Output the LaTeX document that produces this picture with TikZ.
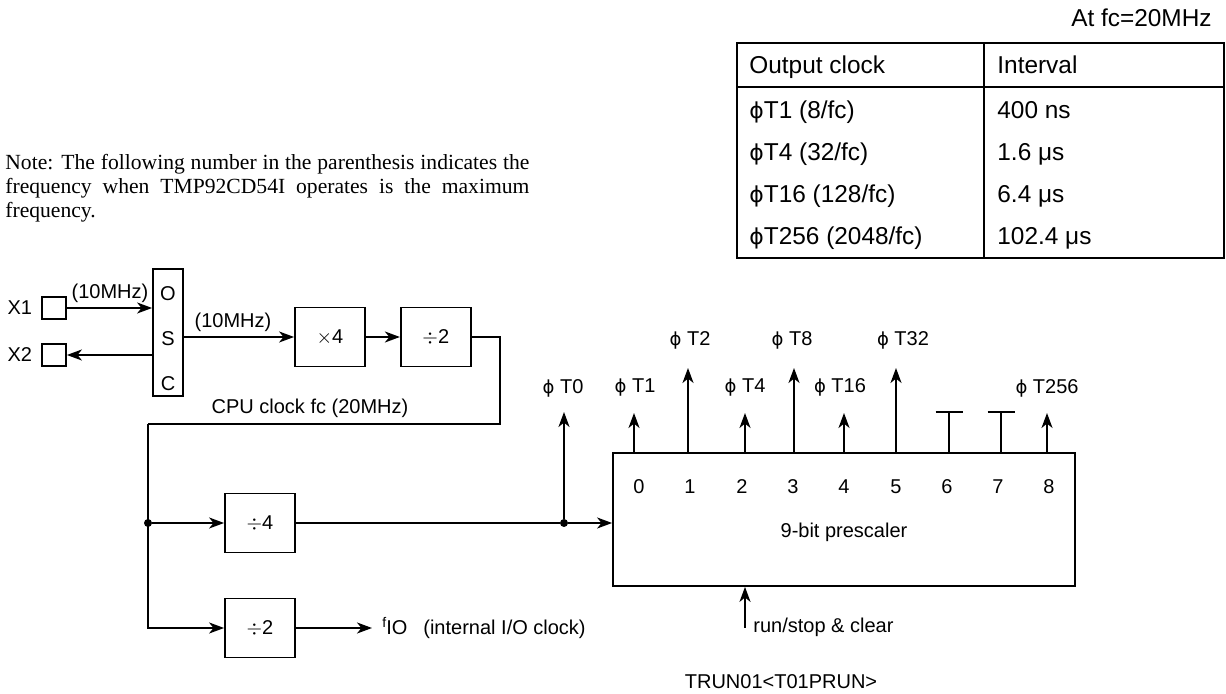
\documentclass[tikz,border=0pt]{standalone}
\usepackage{fontspec}
\setsansfont{Liberation Sans}
\newfontfamily\notefont{Liberation Serif}
\newfontfamily\grkfont[Scale=0.9]{DejaVu Sans}
\newcommand{\phit}{{\grkfont ϕ}}
\usetikzlibrary{arrows.meta,positioning}

\begin{document}
\begin{tikzpicture}[x=0.5pt, y=-0.5pt, >={Stealth[length=7.5pt,width=5.5pt,inset=2.2pt]},
  every node/.style={font=\sffamily\fontsize{10}{12}\selectfont},
  blk/.style={draw, line width=0.9pt, minimum width=35pt, minimum height=29.5pt, inner sep=0pt},
  xpad/.style={draw, line width=0.9pt, minimum width=12pt, minimum height=11pt, inner sep=0pt},
  tabtxt/.style={anchor=west, inner sep=0pt, text height=9pt, text depth=3pt, yshift=-1.5pt, font=\sffamily\fontsize{12.2}{14}\selectfont},
  wire/.style={line width=0.9pt},
  joint/.style={circle, fill, inner sep=0pt, minimum size=4pt}]
\useasboundingbox (0,0) rectangle (1226,694);

% interval table
\node[tabtxt, anchor=east] (atfc) at (1212,18) {At fc=20MHz};
\draw[line width=1.2pt] (737,43) rectangle (1224,258);
\draw[line width=1.2pt] (737,87) -- (1224,87); \draw[line width=1.2pt] (984,43) -- (984,258);
\node[tabtxt] (hclk) at (749,65) {Output clock}; \node[tabtxt] (hint) at (997,65) {Interval};
\node[tabtxt] (c1) at (749,110) {\phit T1 (8/fc)}; \node[tabtxt] (i1) at (997,110) {400 ns};
\node[tabtxt] (c4) at (749,152) {\phit T4 (32/fc)}; \node[tabtxt] (i4) at (997,152) {1.6 μs};
\node[tabtxt] (c16) at (749,194) {\phit T16 (128/fc)}; \node[tabtxt] (i16) at (997,194) {6.4 μs};
\node[tabtxt] (c256) at (749,236) {\phit T256 (2048/fc)}; \node[tabtxt] (i256) at (997,236) {102.4 μs};

% note
\node[anchor=north west, inner sep=0pt, text width=262pt, align=justify, font=\notefont\fontsize{10.8}{12}\selectfont] (note) at (5,154)
  {Note: The following number in the parenthesis indicates the\linebreak frequency when TMP92CD54I operates is the maximum\linebreak frequency.};

% oscillator and clock gear
\node[xpad] (x1) at (54,308) {}; \node[left=1pt of x1] (x1lbl) {X1};
\node[xpad] (x2) at (54,355) {}; \node[left=1pt of x2] (x2lbl) {X2};
\node[draw, line width=0.9pt, minimum width=15pt, minimum height=63.5pt, inner sep=0pt] (osc) at (168,332.5) {};
\node (oscO) at (168,294) {O}; \node (oscS) at (168,339) {S}; \node (oscC) at (168,384) {C};
\draw[wire,->] (x1.east) -- (x1.east -| osc.west);
\draw[wire,->] (x2.east -| osc.west) -- (x2.east);
\node (fin) at (110,293) {(10MHz)};
\node[blk] (mul) at (330,337) {$\times$4};
\node[blk, right=17pt of mul] (div2a) {$\div$2};
\draw[wire,->] (mul.west -| osc.east) -- (mul.west);
\node (fosc) at (233,322) {(10MHz)};
\draw[wire,->] (mul) -- (div2a);

% CPU clock distribution
\coordinate (cpuR) at (500,424); \coordinate (cpuL) at (148,424);
\draw[wire] (div2a.east) -| (cpuR) -- (cpuL);
\node (cpu) at (310,408) {CPU clock fc (20MHz)};
\node[blk] (div4) at (260,523) {$\div$4};
\node[blk] (div2b) at (260,628) {$\div$2};
\node[joint] (split) at (cpuL |- div4) {};
\draw[wire,->] (cpuL) |- (div2b.west); \draw[wire,->] (split) -- (div4);
\node[anchor=west, inner xsep=5pt] (fio) at (372,628) {{\fontsize{7}{8}\selectfont\raisebox{3.5pt}{f}}IO\hspace{8pt}(internal I/O clock)};
\draw[wire,->] (div2b.east) -- (fio.west);

% prescaler
\node[draw, line width=0.9pt, minimum width=231pt, minimum height=66.5pt] (ps) at (844,519.5) {};
\node (psname) at (844,532) {9-bit prescaler};
\node[joint] (t0) at (564,523) {};
\draw[wire] (div4) -- (t0); \draw[wire,->] (t0) -- (ps.west |- t0);
\coordinate (tp0) at (564,412); \draw[wire,->] (t0) -- (tp0);
\node (lt0) at (563,388) {\phit\ T0};

\node (b0) at (639,487) {0}; \node (b1) at (690,487) {1}; \node (b2) at (742,487) {2};
\node (b3) at (793,487) {3}; \node (b4) at (844,487) {4}; \node (b5) at (896,487) {5};
\node (b6) at (947,487) {6}; \node (b7) at (998,487) {7}; \node (b8) at (1049,487) {8};

\coordinate (tp1) at (634,413); \coordinate (tp2) at (688,368); \coordinate (tp4) at (745,413);
\coordinate (tp8) at (794,368); \coordinate (tp16) at (844,413); \coordinate (tp32) at (896,368);
\coordinate (tp64) at (949,412); \coordinate (tp128) at (1001,412); \coordinate (tp256) at (1047,413);
\draw[wire,->] (tp1 |- ps.north) -- (tp1); \draw[wire,->] (tp2 |- ps.north) -- (tp2);
\draw[wire,->] (tp4 |- ps.north) -- (tp4); \draw[wire,->] (tp8 |- ps.north) -- (tp8);
\draw[wire,->] (tp16 |- ps.north) -- (tp16); \draw[wire,->] (tp32 |- ps.north) -- (tp32);
\draw[wire,->] (tp256 |- ps.north) -- (tp256);
\draw[wire] (tp64 |- ps.north) -- (tp64); \draw[wire] ([xshift=-6.75pt]tp64) -- ([xshift=6.75pt]tp64);
\draw[wire] (tp128 |- ps.north) -- (tp128); \draw[wire] ([xshift=-6.75pt]tp128) -- ([xshift=6.75pt]tp128);
\node (lt1) at (635,387) {\phit\ T1}; \node (lt2) at (690,340) {\phit\ T2};
\node (lt4) at (745,387) {\phit\ T4}; \node (lt8) at (792,340) {\phit\ T8};
\node (lt16) at (840,387) {\phit\ T16}; \node (lt32) at (903,340) {\phit\ T32};
\node (lt256) at (1047,388) {\phit\ T256};

\coordinate (rs) at (745,628); \draw[wire,->] (rs) -- (rs |- ps.south);
\node[anchor=west, inner sep=0pt] (rslbl) at (753,627) {run/stop \& clear};
\node (trun) at (781,682) {TRUN01<T01PRUN>};
\end{tikzpicture}
\end{document}
